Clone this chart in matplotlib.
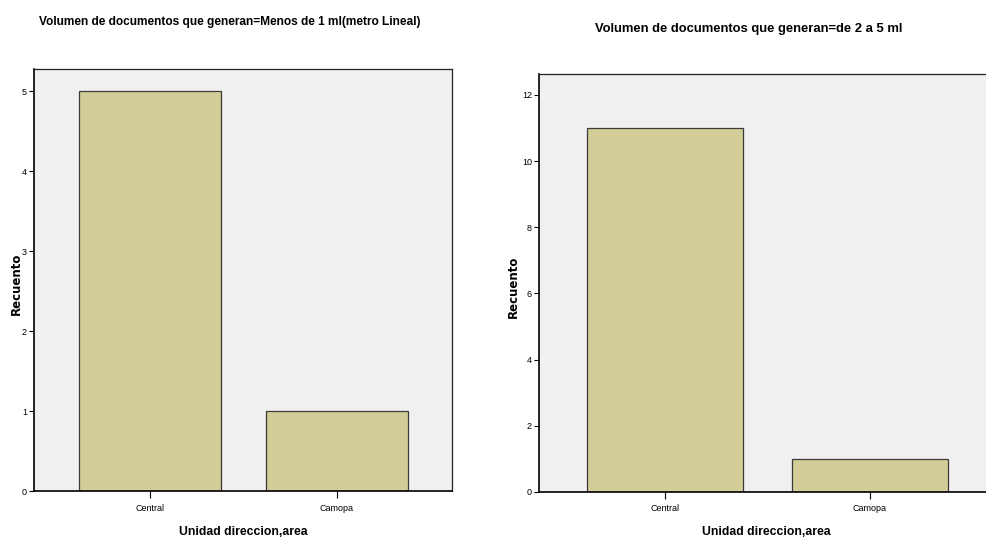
import matplotlib
matplotlib.use("Agg")
import matplotlib.pyplot as plt

# datos
categorias = ["Central", "Camopa"]
recuento_menos1 = [5, 1]
recuento_2a5 = [11, 1]
titulo_izq = "Volumen de documentos que generan=Menos de 1 ml(metro Lineal)"
titulo_der = "Volumen de documentos que generan=de 2 a 5 ml"
ticks_izq = [0, 1, 2, 3, 4, 5]
ticks_der = [0, 2, 4, 6, 8, 10, 12]

plt.rcParams["font.family"] = ["Liberation Sans", "DejaVu Sans"]

color_barra = "#d3ce97"
color_fondo = "#f0f0f0"

fig = plt.figure(figsize=(9.87, 5.4), dpi=100)

def dibujar(pos, valores, ticks, ylim, xlim, titulo, titulo_xy, titulo_size, ylab_x, xlab_y):
    ax = fig.add_axes(pos)
    ax.set_facecolor(color_fondo)
    ax.bar(range(len(categorias)), valores, width=0.76, color=color_barra,
           edgecolor="#3a3a3a", linewidth=0.9)
    ax.set_xticks(range(len(categorias)))
    ax.set_xticklabels(categorias, fontsize=6.5)
    ax.set_yticks(ticks)
    ax.set_yticklabels([str(t) for t in ticks], fontsize=6.5)
    ax.set_ylim(0, ylim)
    ax.set_xlim(*xlim)
    ax.tick_params(axis="y", length=3.5, width=0.8, pad=1.5, color="black")
    ax.tick_params(axis="x", length=5, width=0.8, pad=4, color="black")
    for s in ["left", "bottom"]:
        ax.spines[s].set_color("black")
        ax.spines[s].set_linewidth(1.2)
    for s in ["top", "right"]:
        ax.spines[s].set_color("#222222")
        ax.spines[s].set_linewidth(0.9)
    ax.set_ylabel("Recuento", fontsize=8.5, fontweight="bold", family="DejaVu Sans")
    ax.yaxis.set_label_coords(ylab_x, 0.49)
    ax.set_xlabel("Unidad direccion,area", fontsize=8.8, fontweight="bold")
    ax.xaxis.set_label_coords(0.5, xlab_y)
    fig.text(titulo_xy[0], titulo_xy[1], titulo, fontsize=titulo_size, fontweight="bold",
             ha="center", va="center")
    return ax

ax1 = dibujar([0.0344, 0.0907, 0.4235, 0.7815], recuento_menos1, ticks_izq, 5.275,
              (-0.62, 1.615), titulo_izq, (230 / 987, 1 - 22 / 540), 8.6, -0.026, -0.082)
ax2 = dibujar([0.546, 0.0889, 0.46, 0.774], recuento_2a5, ticks_der, 12.63,
              (-0.615, 1.6), titulo_der, (749 / 987, 1 - 29 / 540), 9.4, -0.042, -0.081)

fig.savefig("out.png", dpi=100)
